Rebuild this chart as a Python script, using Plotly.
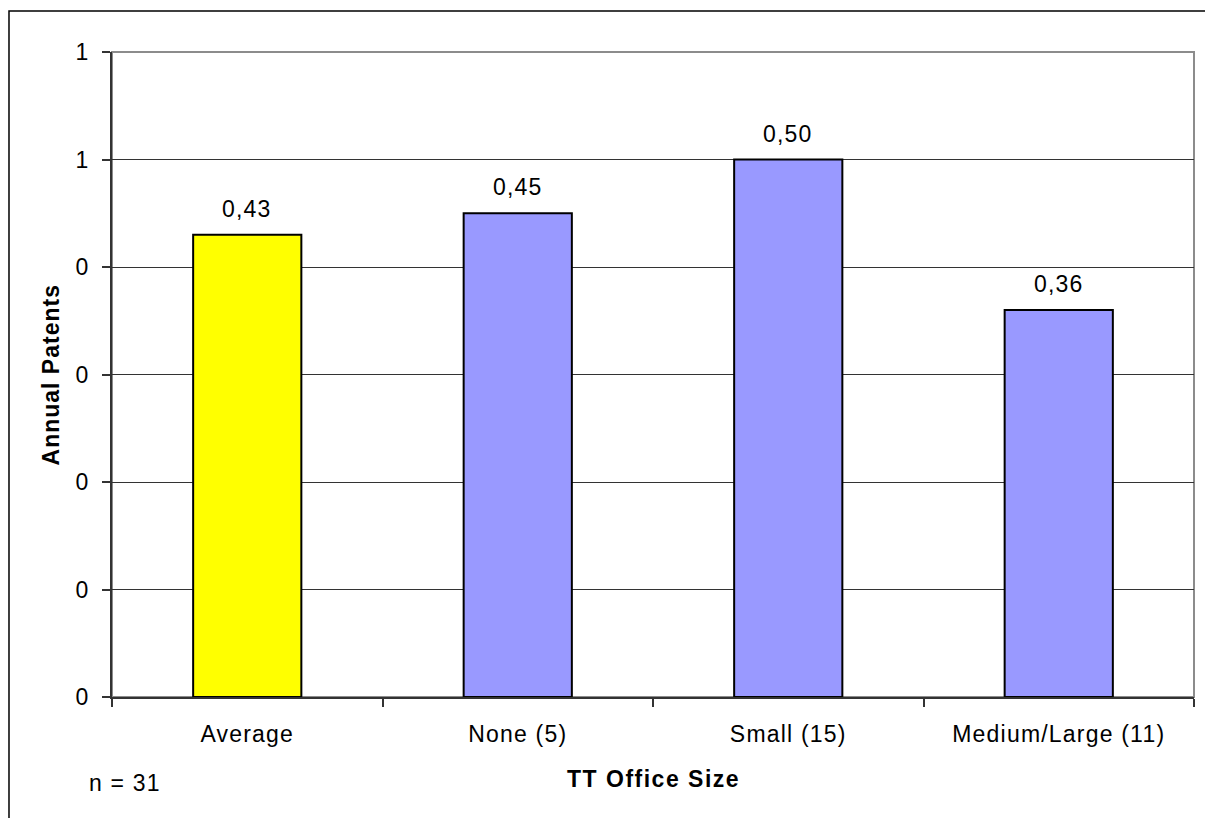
import plotly.graph_objects as go

# Data
categories = ["Average", "None (5)", "Small (15)", "Medium/Large (11)"]
patents = [0.43, 0.45, 0.50, 0.36]
bar_colors = ["#FFFF00", "#9999FF", "#9999FF", "#9999FF"]
y_tickvals = [0, 0.1, 0.2, 0.3, 0.4, 0.5, 0.6]
y_ticktext = ["0", "0", "0", "0", "0", "1", "1"]

FONT = "Liberation Sans, Arial, sans-serif"
TXT = 23


def spaced(s, px=1.2):
    """Wrap text in a span with a little extra letter spacing."""
    return f'<span style="letter-spacing:{px}px">{s}</span>'


fig = go.Figure()
fig.add_trace(go.Bar(
    x=categories,
    y=patents,
    width=0.4,
    marker=dict(color=bar_colors, line=dict(color="#000000", width=2)),
    hoverinfo="x+y",
))

# Value labels above the bars
annotations = []
for cat, val in zip(categories, patents):
    annotations.append(dict(
        x=cat, y=val, xref="x", yref="y",
        text=spaced(f"{val:.2f}".replace(".", ",")),
        showarrow=False, yanchor="bottom", yshift=11,
        font=dict(family=FONT, size=TXT, color="#000000"),
    ))

# Axis titles and sample size note
annotations += [
    dict(text=spaced("<b>TT Office Size</b>", 1.5), x=0.5, y=-0.1273, xref="paper", yref="paper",
         showarrow=False, xanchor="center", yanchor="middle",
         font=dict(family=FONT, size=23, color="#000000")),
    dict(text=spaced("<b>Annual Patents</b>", 1.0), x=-0.0564, y=0.5, xref="paper", yref="paper",
         showarrow=False, xanchor="center", yanchor="middle", textangle=-90,
         font=dict(family=FONT, size=23, color="#000000")),
    dict(text=spaced("n = 31"), x=-0.0235, y=-0.134, xref="paper", yref="paper",
         showarrow=False, xanchor="left", yanchor="middle",
         font=dict(family=FONT, size=TXT, color="#000000")),
]

shapes = [
    # plot area frame
    dict(type="rect", xref="paper", yref="paper", x0=0, x1=1, y0=0, y1=1,
         line=dict(color="#8c8c8c", width=2), layer="below"),
    # outer chart frame
    dict(type="rect", xref="paper", yref="paper",
         x0=-0.0952, x1=1.05, y0=-0.2, y1=1.0636,
         line=dict(color="#000000", width=1.5), layer="below"),
]

fig.update_layout(
    width=1205, height=818,
    margin=dict(l=112, r=11, t=52, b=121),
    paper_bgcolor="#FFFFFF", plot_bgcolor="#FFFFFF",
    showlegend=False,
    font=dict(family=FONT, size=TXT, color="#000000"),
    annotations=annotations,
    shapes=shapes,
    bargap=0.6,
)

fig.update_xaxes(
    type="category",
    tickvals=categories,
    ticktext=[spaced(c) for c in categories],
    tickson="boundaries",
    ticks="outside", ticklen=8, tickwidth=1.5, tickcolor="#333333",
    ticklabelstandoff=15,
    showline=True, linecolor="#333333", linewidth=2,
    showgrid=False,
    tickfont=dict(family=FONT, size=TXT, color="#000000"),
)

fig.update_yaxes(
    range=[0, 0.6],
    tickvals=y_tickvals, ticktext=y_ticktext,
    ticks="outside", ticklen=8, tickwidth=1.5, tickcolor="#333333",
    ticklabelstandoff=9,
    showline=True, linecolor="#333333", linewidth=2,
    showgrid=True, gridcolor="#333333", gridwidth=1,
    zeroline=False,
    tickfont=dict(family=FONT, size=TXT, color="#000000"),
)

fig.write_html("out.html")
